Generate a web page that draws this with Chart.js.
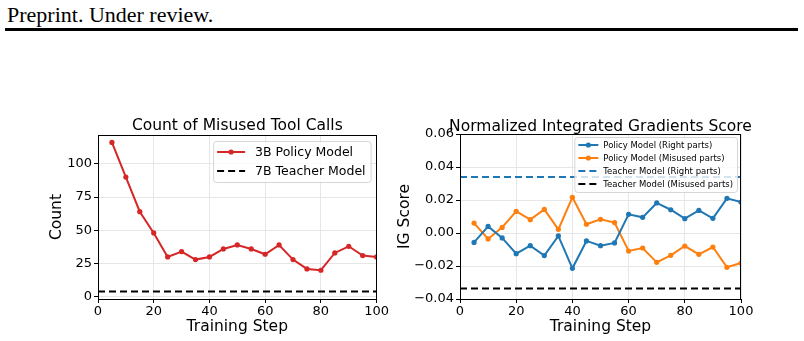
<!DOCTYPE html>
<html>
<head>
<meta charset="utf-8">
<script src="https://cdn.jsdelivr.net/npm/chart.js@4.4.1/dist/chart.umd.min.js"></script>
<style>
  body { margin: 0; background: #fff; width: 804px; height: 341px; position: relative; overflow: hidden; }
  #hdr { position: absolute; left: 7px; top: 4px; font: 22px/22px "Liberation Serif", serif; color: #000; white-space: nowrap; }
  #rule { position: absolute; left: 5px; top: 28px; width: 793px; height: 3px; background: #000; }
  .box { position: absolute; top: 110px; }
</style>
</head>
<body>
<div id="hdr">Preprint. Under review.</div>
<div id="rule"></div>
<canvas id="countChart" class="box" style="left:40px" width="350" height="231"></canvas>
<canvas id="igChart" class="box" style="left:390px" width="414" height="231"></canvas>
<script>
// data
const steps = [5, 10, 15, 20, 25, 30, 35, 40, 45, 50, 55, 60, 65, 70, 75, 80, 85, 90, 95, 100];
const policyCount = [116, 90, 64, 48, 30, 34, 28, 30, 36, 39, 36, 32, 39, 28, 21, 20, 33, 38, 31, 30];
const teacherCount = 4;
const igRight = [-0.0057, 0.0040, -0.0030, -0.0125, -0.0077, -0.0137, -0.0018, -0.0214, -0.0048, -0.0077,
                 -0.0060, 0.0113, 0.0095, 0.0182, 0.0141, 0.0087, 0.0137, 0.0089, 0.0210, 0.0188];
const igMisused = [0.0060, -0.0036, 0.0034, 0.0131, 0.0081, 0.0143, 0.0022, 0.0216, 0.0053, 0.0083,
                   0.0063, -0.0109, -0.0091, -0.0178, -0.0135, -0.0079, -0.0129, -0.0085, -0.0208, -0.0182];
const teacherRight = 0.0339;
const teacherMisused = -0.0337;

const stepTicks = [0, 20, 40, 60, 80, 100];
const countTicks = [0, 25, 50, 75, 100];
const igTicks = [-0.04, -0.02, 0, 0.02, 0.04, 0.06];

const FONT = '"DejaVu Sans", sans-serif';
const GRID = '#e6e6e6';

function pts(ys) {
  return steps.map((s, i) => ({ x: s, y: ys[i] }));
}
function hline(v) {
  return [{ x: stepTicks[0], y: v }, { x: stepTicks[stepTicks.length - 1], y: v }];
}

// frame, centred title and in-axes legend, matplotlib style
const framePlugin = {
  id: 'frame',
  afterDraw(chart, args, opts) {
    const { ctx, chartArea: a } = chart;
    ctx.save();
    ctx.strokeStyle = '#000';
    ctx.lineWidth = 1;
    ctx.strokeRect(Math.round(a.left) + 0.5, Math.round(a.top) + 0.5,
                   Math.round(a.right - a.left) - 1, Math.round(a.bottom - a.top));

    ctx.fillStyle = '#000';
    ctx.font = '15.5px ' + FONT;
    ctx.textAlign = 'center';
    ctx.textBaseline = 'alphabetic';
    ctx.fillText(opts.title, (a.left + a.right) / 2, a.top + opts.titleDy);

    const lg = opts.legend;
    const sets = chart.data.datasets;
    ctx.font = lg.size + 'px ' + FONT;
    let tw = 0;
    sets.forEach(d => { tw = Math.max(tw, ctx.measureText(d.label).width); });
    const w = lg.pad + lg.handle + lg.gap + tw + lg.padR;
    const h = sets.length * lg.rowH + lg.extra;
    const x0 = a.right - lg.dx - w;
    const y0 = a.top + lg.dy;
    ctx.beginPath();
    ctx.roundRect(x0 + 0.5, y0 + 0.5, w, h, 3);
    ctx.fillStyle = 'rgba(255,255,255,0.8)';
    ctx.fill();
    ctx.strokeStyle = '#d6d6d6';
    ctx.stroke();

    sets.forEach((d, i) => {
      const cy = y0 + lg.extra / 2 + lg.rowH * (i + 0.5);
      const hx = x0 + lg.pad;
      ctx.beginPath();
      ctx.setLineDash(d.borderDash || []);
      ctx.strokeStyle = d.borderColor;
      ctx.lineWidth = d.borderWidth;
      ctx.moveTo(hx, cy);
      ctx.lineTo(hx + lg.handle, cy);
      ctx.stroke();
      ctx.setLineDash([]);
      if (d.pointRadius > 0) {
        ctx.beginPath();
        ctx.arc(hx + lg.handle / 2, cy, d.pointRadius, 0, Math.PI * 2);
        ctx.fillStyle = d.borderColor;
        ctx.fill();
      }
      ctx.fillStyle = '#000';
      ctx.textAlign = 'left';
      ctx.textBaseline = 'middle';
      ctx.fillText(d.label, hx + lg.handle + lg.gap, cy + 1);
    });
    ctx.restore();
  }
};

function lineSet(label, data, color) {
  return { label, data, borderColor: color, backgroundColor: color, borderWidth: 2,
           pointRadius: 2.6, pointHoverRadius: 2.6, pointBorderWidth: 0, tension: 0 };
}
function dashSet(label, value, color) {
  return { label, data: hline(value), borderColor: color, borderWidth: 2,
           borderDash: [7, 4], pointRadius: 0, tension: 0 };
}

function axes(yMin, yMax, yTicks, yWidth, yTitle, yTitlePad, fmt) {
  return {
    x: {
      type: 'linear', min: stepTicks[0], max: stepTicks[stepTicks.length - 1],
      afterBuildTicks: s => { s.ticks = stepTicks.map(v => ({ value: v })); },
      afterFit: s => { s.height = 42; },
      grid: { color: GRID, tickColor: '#000', tickLength: 4 },
      border: { color: '#000', width: 1 },
      ticks: { color: '#000', font: { family: FONT, size: 13 }, padding: 1, maxRotation: 0 },
      title: { display: true, text: 'Training Step', color: '#000',
               font: { family: FONT, size: 15.5 }, padding: { top: 0, bottom: 5 } }
    },
    y: {
      type: 'linear', min: yMin, max: yMax,
      afterBuildTicks: s => { s.ticks = yTicks.map(v => ({ value: v })); },
      afterFit: s => { s.width = yWidth; },
      grid: { color: GRID, tickColor: '#000', tickLength: 4 },
      border: { color: '#000', width: 1 },
      ticks: { color: '#000', font: { family: FONT, size: 13 }, padding: 2, callback: fmt },
      title: { display: true, text: yTitle, color: '#000',
               font: { family: FONT, size: 15.5 }, padding: { top: yTitlePad, bottom: 0 } }
    }
  };
}

new Chart(document.getElementById('countChart'), {
  type: 'line',
  data: {
    datasets: [
      lineSet('3B Policy Model', pts(policyCount), '#d62728'),
      dashSet('7B Teacher Model', teacherCount, '#000000')
    ]
  },
  options: {
    responsive: false, animation: false, devicePixelRatio: 1,
    layout: { padding: { left: 0, right: 12, top: 25, bottom: 0 } },
    scales: axes(-1.6, 121.6, countTicks, 58, 'Count', 8, v => String(v)),
    plugins: {
      legend: { display: false }, tooltip: { enabled: false },
      frame: { title: 'Count of Misused Tool Calls', titleDy: -5,
               legend: { size: 12.5, rowH: 19, extra: 3, pad: 4, handle: 28, gap: 10, padR: 5, dx: 6, dy: 6 } }
    }
  },
  plugins: [framePlugin]
});

new Chart(document.getElementById('igChart'), {
  type: 'line',
  data: {
    datasets: [
      lineSet('Policy Model (Right parts)', pts(igRight), '#1f77b4'),
      lineSet('Policy Model (Misused parts)', pts(igMisused), '#ff7f0e'),
      dashSet('Teacher Model (Right parts)', teacherRight, '#1f77b4'),
      dashSet('Teacher Model (Misused parts)', teacherMisused, '#000000')
    ]
  },
  options: {
    responsive: false, animation: false, devicePixelRatio: 1,
    layout: { padding: { left: 0, right: 63, top: 24, bottom: 0 } },
    scales: axes(-0.04, 0.06, igTicks, 70, 'IG Score', 6,
                 v => v.toFixed(2).replace('-', '\u2212')),
    plugins: {
      legend: { display: false }, tooltip: { enabled: false },
      frame: { title: 'Normalized Integrated Gradients Score', titleDy: -3,
               legend: { size: 8.5, rowH: 13, extra: 3, pad: 4, handle: 20, gap: 5, padR: 4, dx: 4, dy: 3 } }
    }
  },
  plugins: [framePlugin]
});
</script>
</body>
</html>
